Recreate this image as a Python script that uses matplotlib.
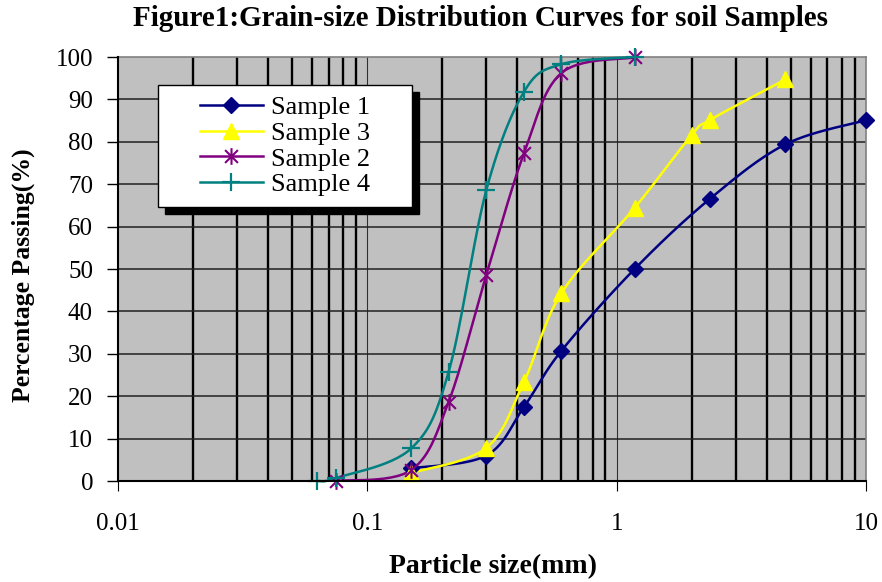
import matplotlib
matplotlib.use("Agg")
import matplotlib.pyplot as plt
from matplotlib.lines import Line2D
from matplotlib.patches import Rectangle
from matplotlib.path import Path
from matplotlib.ticker import FixedLocator, NullFormatter
import numpy as np

plt.rcParams["font.family"] = ["Liberation Serif", "DejaVu Serif"]

# sieve sizes (mm) and percentage passing
s1_size = [0.15, 0.3, 0.425, 0.6, 1.18, 2.36, 4.75, 10]
s1_pass = [3.0, 6.0, 17.5, 30.7, 50.0, 66.5, 79.4, 85.1]
s3_size = [0.15, 0.3, 0.425, 0.6, 1.18, 2.0, 2.36, 4.75]
s3_pass = [1.9, 7.8, 23.4, 44.3, 64.4, 81.6, 85.1, 94.7]
s2_size = [0.075, 0.15, 0.212, 0.3, 0.425, 0.6, 1.18]
s2_pass = [0.0, 2.6, 18.7, 48.6, 77.3, 96.2, 99.9]
s4_size = [0.063, 0.075, 0.15, 0.212, 0.3, 0.425, 0.6, 1.18]
s4_pass = [0.0, 0.7, 7.7, 25.8, 68.6, 91.8, 98.3, 100.0]

x_ticks = [0.01, 0.1, 1, 10]
x_labels = ["0.01", "0.1", "1", "10"]
y_ticks = list(range(0, 101, 10))


def smooth(xs, ys, n=30):
    # Excel-style smoothed line: Catmull-Rom bezier in (log x, y)
    lx = np.log10(xs); y = np.asarray(ys, float)
    P = np.column_stack([lx, y])
    P = np.vstack([P[0], P, P[-1]])
    out = []
    t = np.linspace(0, 1, n)[:, None]
    for i in range(1, len(P) - 2):
        p0, p1, p2, p3 = P[i - 1], P[i], P[i + 1], P[i + 2]
        c1 = p1 + (p2 - p0) / 6
        c2 = p2 - (p3 - p1) / 6
        seg = ((1 - t) ** 3) * p1 + 3 * ((1 - t) ** 2) * t * c1 + 3 * (1 - t) * t ** 2 * c2 + t ** 3 * p2
        out.append(seg)
    out = np.vstack(out)
    return 10 ** out[:, 0], out[:, 1]


# excel asterisk: an X with a vertical bar through it
ast = Path([(-1, -1), (1, 1), (-1, 1), (1, -1), (0, -1.3), (0, 1.3)],
           [Path.MOVETO, Path.LINETO, Path.MOVETO, Path.LINETO, Path.MOVETO, Path.LINETO])

fig = plt.figure(figsize=(8.82, 5.82), dpi=100)
ax = fig.add_axes([118 / 882, 101 / 582, 748 / 882, 424 / 582])
ax.set_facecolor("#C0C0C0")
ax.set_xscale("log")
ax.set_xlim(0.01, 10); ax.set_ylim(0, 100)

# grid: thick black minor verticals, thin major verticals, black horizontals
minors = [m * 10.0 ** k for k in (-2, -1, 0) for m in range(2, 10)]
for xm in minors:
    ax.axvline(xm, color="black", lw=1.7, zorder=1)
for xm in (0.1, 1):
    ax.axvline(xm, color="#303030", lw=0.8, zorder=1)
for yv in y_ticks[1:-1]:
    ax.axhline(yv, color="#202020", lw=1.1, zorder=1)

series = [
    ("Sample 1", s1_size, s1_pass, "#000080", dict(marker="D", ms=8, mfc="#000080", mec="#000080")),
    ("Sample 3", s3_size, s3_pass, "#FFFF00", dict(marker="^", ms=11, mfc="#FFFF00", mec="#FFFF00")),
    ("Sample 2", s2_size, s2_pass, "#800080", dict(marker=ast, ms=12, mew=1.5, mfc="none", mec="#800080")),
    ("Sample 4", s4_size, s4_pass, "#008080", dict(marker="+", ms=13, mew=1.6, mec="#008080")),
]
handles = []
for name, xs, ys, col, mk in series:
    sx, sy = smooth(xs, ys)
    ax.plot(sx, sy, color=col, lw=1.8, zorder=3, clip_on=False)
    ax.plot(xs, ys, ls="none", zorder=4, clip_on=False, **mk)
    handles.append(Line2D([0], [0], color=col, lw=1.8, **mk))

for sp in ("top", "right"):
    ax.spines[sp].set_color("#808080"); ax.spines[sp].set_linewidth(1.2)
for sp in ("left", "bottom"):
    ax.spines[sp].set_color("black"); ax.spines[sp].set_linewidth(1.5)
    ax.spines[sp].set_zorder(5)

ax.xaxis.set_major_locator(FixedLocator(x_ticks))
ax.set_xticklabels(x_labels)
ax.xaxis.set_minor_locator(FixedLocator(minors))
ax.xaxis.set_minor_formatter(NullFormatter())
ax.set_yticks(y_ticks)
ax.tick_params(axis="x", which="major", length=7, width=0.8, pad=16, labelsize=18)
ax.tick_params(axis="x", which="minor", length=0)
ax.tick_params(axis="y", length=8, width=1.0, pad=10, labelsize=18)

fig.text(493 / 882, 1 - 567 / 582, "Particle size(mm)", ha="center", va="center",
         fontsize=20, fontweight="bold")
fig.text(23 / 882, 1 - 275 / 582, "Percentage Passing(%)", ha="center", va="center",
         rotation=90, fontsize=18.5, fontweight="bold")
fig.text(480 / 882, 1 - 18 / 582, "Figure1:Grain-size Distribution Curves for soil Samples",
         ha="center", va="center", fontsize=21, fontweight="bold")

# legend: white box with black drop shadow, entries centred inside
x0, y0, x1, y1 = 158, 85, 412, 207
bx, by = (x0 - 118) / 748, (481 - y1) / 424
bw, bh = (x1 - x0) / 748, (y1 - y0) / 424
ax.add_patch(Rectangle((bx + 7 / 748, by - 7 / 424), bw, bh, transform=ax.transAxes,
                       facecolor="black", edgecolor="black", zorder=6, clip_on=False))
ax.add_patch(Rectangle((bx, by), bw, bh, transform=ax.transAxes,
                       facecolor="white", edgecolor="black", lw=1.0, zorder=6.5, clip_on=False))
leg = ax.legend(handles, [s[0] for s in series], loc="center",
                bbox_to_anchor=(bx + bw / 2, by + bh / 2), fontsize=19, frameon=False,
                handlelength=2.4, labelspacing=0.08, borderpad=0, handletextpad=0.3,
                borderaxespad=0)
leg.set_zorder(7)

fig.savefig("out.png", dpi=100)
